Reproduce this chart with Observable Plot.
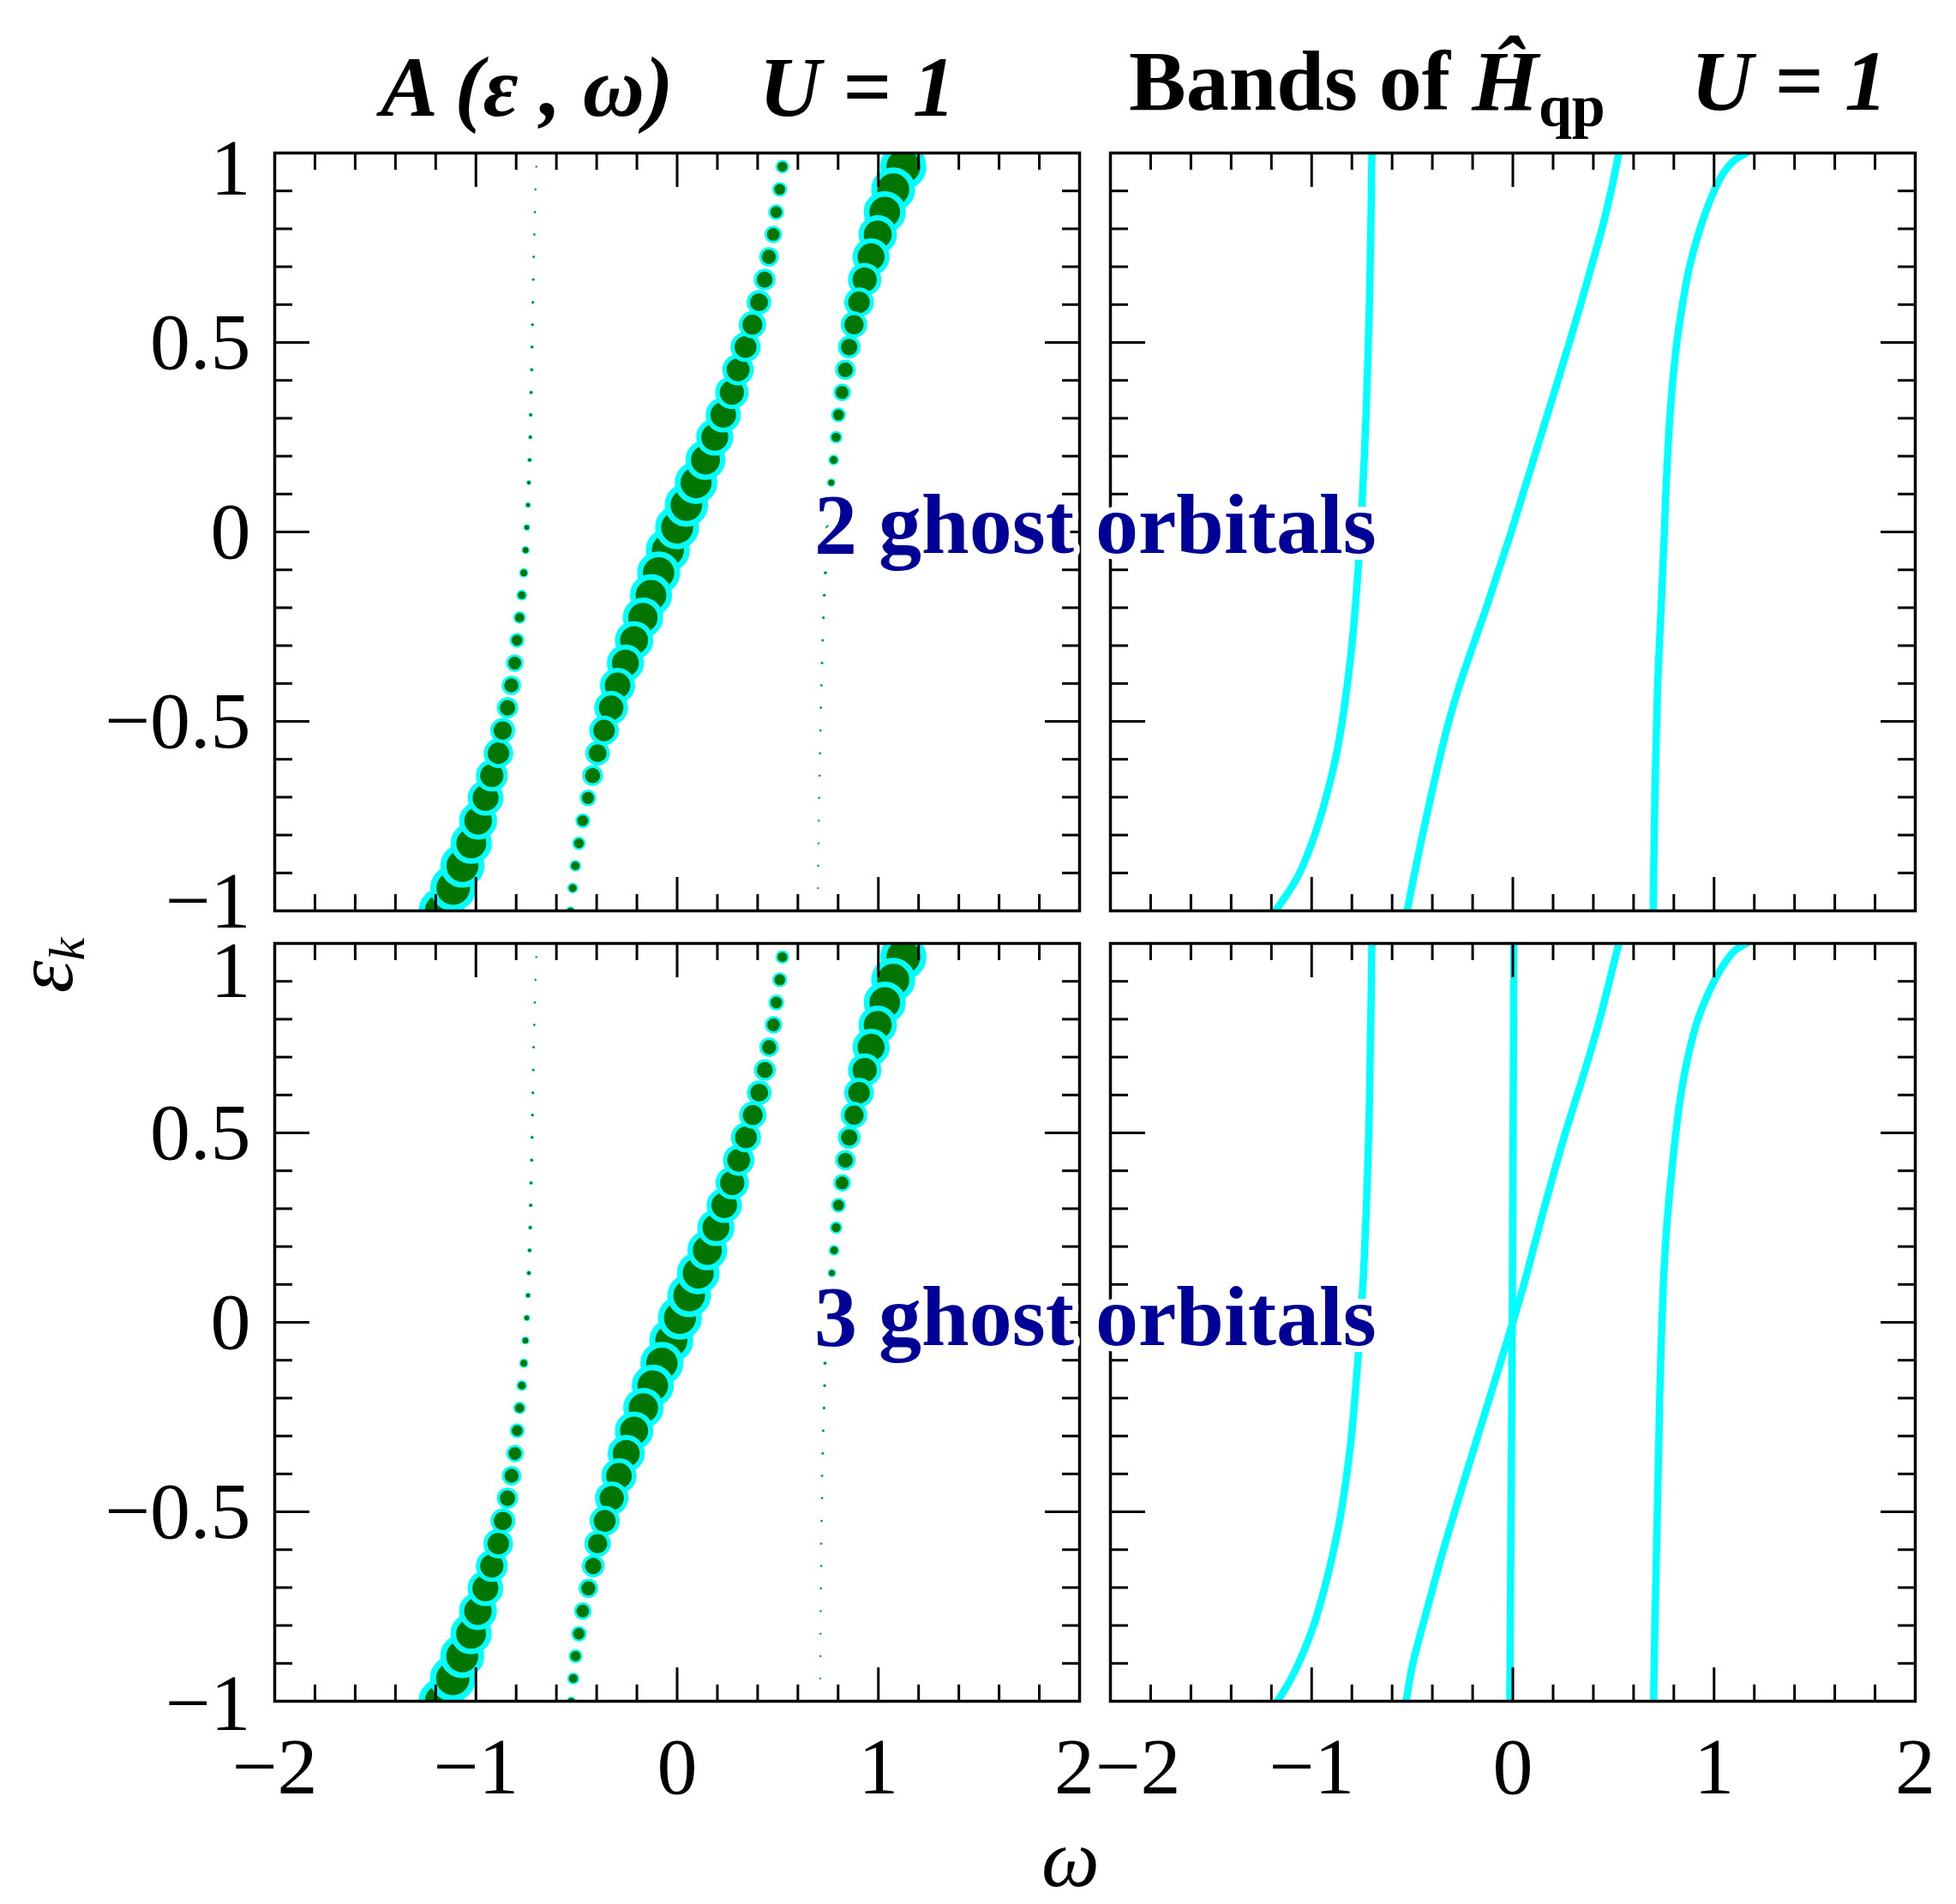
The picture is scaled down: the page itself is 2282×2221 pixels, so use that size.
<!DOCTYPE html>
<html>
<head>
<meta charset="utf-8">
<script src="https://cdn.jsdelivr.net/npm/d3@7"></script>
<script src="https://cdn.jsdelivr.net/npm/@observablehq/plot@0.6"></script>
<style>
  html, body { margin: 0; padding: 0; background: white; }
</style>
</head>
<body>
<div id="chart"></div>
<script>
// ---------------- DATA ----------------
// momentum grid (ε_k) of the spectral-function samples, left panels
const epsGrid = [-1, -0.94, -0.881, -0.822, -0.762, -0.702, -0.643, -0.584, -0.524, -0.464,
  -0.405, -0.346, -0.286, -0.226, -0.167, -0.108, -0.048, 0.012, 0.071, 0.13,
  0.19, 0.25, 0.309, 0.368, 0.428, 0.488, 0.547, 0.606, 0.666, 0.726,
  0.785, 0.844, 0.904, 0.964];

// A(ε,ω) — 2 ghost orbitals: pole positions ω and relative weights
const ghost2_band1_omega = [-1.17, -1.113, -1.067, -1.023, -0.989, -0.952, -0.921, -0.888, -0.867, -0.843,
  -0.824, -0.807, -0.796, -0.783, -0.772, -0.762, -0.753, -0.747, -0.741, -0.737,
  -0.733, -0.730, -0.728, -0.726, -0.723, -0.721, -0.719, -0.717, -0.715, -0.713,
  -0.710, -0.707, -0.704, -0.700];
const ghost2_band1_weight = [1.0, 0.99, 0.95, 0.89, 0.82, 0.77, 0.69, 0.64, 0.54, 0.46,
  0.42, 0.38, 0.32, 0.27, 0.23, 0.2, 0.17, 0.14, 0.12, 0.105,
  0.098, 0.092, 0.087, 0.082, 0.078, 0.074, 0.07, 0.066, 0.063, 0.06,
  0.057, 0.054, 0.051, 0.048];
const ghost2_band2_omega = [-0.530, -0.519, -0.506, -0.488, -0.469, -0.443, -0.420, -0.395, -0.363, -0.328,
  -0.296, -0.257, -0.214, -0.170, -0.130, -0.092, -0.046, 0.0, 0.046, 0.094,
  0.141, 0.187, 0.229, 0.272, 0.303, 0.340, 0.374, 0.407, 0.435, 0.456,
  0.478, 0.492, 0.510, 0.523];
const ghost2_band2_weight = [0.19, 0.23, 0.25, 0.29, 0.32, 0.36, 0.45, 0.53, 0.64, 0.73,
  0.76, 0.8, 0.83, 0.87, 0.91, 0.93, 0.95, 0.95, 0.94, 0.92,
  0.86, 0.8, 0.76, 0.72, 0.68, 0.65, 0.59, 0.53, 0.47, 0.42,
  0.38, 0.34, 0.32, 0.29];
const ghost2_band3_omega = [0.698, 0.700, 0.701, 0.703, 0.704, 0.706, 0.708, 0.710, 0.712, 0.714,
  0.717, 0.720, 0.723, 0.727, 0.731, 0.737, 0.743, 0.750, 0.757, 0.766,
  0.778, 0.790, 0.802, 0.820, 0.836, 0.855, 0.879, 0.904, 0.932, 0.964,
  0.997, 1.032, 1.074, 1.124];
const ghost2_band3_weight = [0.045, 0.046, 0.047, 0.048, 0.049, 0.05, 0.051, 0.052, 0.053, 0.055,
  0.057, 0.059, 0.062, 0.065, 0.07, 0.077, 0.09, 0.11, 0.14, 0.18,
  0.23, 0.27, 0.32, 0.38, 0.44, 0.49, 0.57, 0.64, 0.72, 0.8,
  0.83, 0.91, 0.95, 1.0];

// A(ε,ω) — 3 ghost orbitals
const ghost3_band1_omega = [-1.17, -1.115, -1.068, -1.024, -0.99, -0.953, -0.921, -0.889, -0.866, -0.843,
  -0.823, -0.806, -0.795, -0.783, -0.772, -0.762, -0.754, -0.747, -0.741, -0.737,
  -0.733, -0.730, -0.728, -0.726, -0.723, -0.721, -0.719, -0.717, -0.715, -0.713,
  -0.710, -0.707, -0.704, -0.700];
const ghost3_band1_weight = [1.0, 0.99, 0.95, 0.89, 0.82, 0.77, 0.69, 0.64, 0.54, 0.46,
  0.42, 0.38, 0.32, 0.27, 0.23, 0.2, 0.17, 0.14, 0.12, 0.105,
  0.098, 0.092, 0.087, 0.082, 0.078, 0.074, 0.07, 0.066, 0.063, 0.06,
  0.057, 0.054, 0.051, 0.048];
const ghost3_band2_omega = [-0.526, -0.516, -0.505, -0.488, -0.469, -0.441, -0.417, -0.395, -0.360, -0.325,
  -0.289, -0.253, -0.214, -0.168, -0.121, -0.076, -0.029, 0.014, 0.060, 0.105,
  0.150, 0.193, 0.234, 0.274, 0.306, 0.342, 0.376, 0.408, 0.436, 0.457,
  0.479, 0.493, 0.510, 0.523];
const ghost3_band2_weight = [0.2, 0.26, 0.3, 0.34, 0.38, 0.42, 0.49, 0.57, 0.65, 0.72,
  0.76, 0.8, 0.83, 0.87, 0.91, 0.93, 0.95, 0.95, 0.94, 0.92,
  0.86, 0.8, 0.76, 0.72, 0.68, 0.65, 0.59, 0.53, 0.47, 0.42,
  0.38, 0.34, 0.32, 0.29];
const ghost3_band3_omega = [0.711, 0.711, 0.712, 0.712, 0.713, 0.714, 0.716, 0.716, 0.718, 0.720,
  0.720, 0.724, 0.726, 0.730, 0.733, 0.735, 0.742, 0.750, 0.758, 0.769,
  0.780, 0.790, 0.802, 0.820, 0.836, 0.855, 0.879, 0.904, 0.932, 0.964,
  0.997, 1.032, 1.074, 1.124];
const ghost3_band3_weight = [0.045, 0.046, 0.047, 0.048, 0.049, 0.05, 0.051, 0.052, 0.053, 0.055,
  0.057, 0.059, 0.062, 0.065, 0.07, 0.077, 0.09, 0.11, 0.14, 0.18,
  0.23, 0.27, 0.32, 0.38, 0.44, 0.49, 0.57, 0.64, 0.72, 0.8,
  0.83, 0.91, 0.95, 1.0];

// Bands of H_qp (right panels): ε samples and band energies ω
const bandEps = [-1, -0.95, -0.9, -0.8, -0.7, -0.6, -0.5, -0.4, -0.3, -0.2, -0.1, 0,
  0.1, 0.2, 0.3, 0.4, 0.5, 0.6, 0.7, 0.8, 0.9, 0.95, 0.98, 1];
const qp2_band1 = [-1.18, -1.115, -1.06, -0.985, -0.928, -0.882, -0.848, -0.822, -0.8, -0.783, -0.769, -0.757,
  -0.747, -0.738, -0.73, -0.724, -0.718, -0.713, -0.709, -0.706, -0.703, -0.702, -0.701, -0.700];
const qp2_band2 = [-0.525, -0.507, -0.488, -0.449, -0.408, -0.365, -0.318, -0.262, -0.198, -0.132, -0.07, -0.008,
  0.05, 0.108, 0.166, 0.224, 0.281, 0.337, 0.39, 0.443, 0.488, 0.508, 0.519, 0.527];
const qp2_band3 = [0.698, 0.699, 0.700, 0.703, 0.706, 0.71, 0.715, 0.72, 0.728, 0.737, 0.745, 0.753,
  0.76, 0.769, 0.78, 0.795, 0.815, 0.843, 0.878, 0.93, 1.0, 1.05, 1.1, 1.16];
const qp3_band1 = [-1.17, -1.112, -1.065, -0.99, -0.935, -0.89, -0.853, -0.825, -0.802, -0.785, -0.77, -0.758,
  -0.745, -0.736, -0.728, -0.722, -0.716, -0.712, -0.709, -0.706, -0.703, -0.702, -0.701, -0.700];
const qp3_band2 = [-0.53, -0.515, -0.497, -0.448, -0.397, -0.345, -0.289, -0.232, -0.174, -0.116, -0.058, 0.0,
  0.055, 0.105, 0.155, 0.207, 0.261, 0.32, 0.378, 0.432, 0.48, 0.503, 0.517, 0.528];
const qp3_band3 = [0.70, 0.701, 0.703, 0.706, 0.71, 0.714, 0.718, 0.722, 0.726, 0.73, 0.735, 0.741,
  0.748, 0.758, 0.772, 0.79, 0.81, 0.835, 0.87, 0.92, 1.0, 1.055, 1.1, 1.16];
// flat ghost band near ω = 0 (3 ghost orbitals only)
const qp3_flatEps = [-1, 0, 1];
const qp3_flatOmega = [-0.015, -0.003, 0.005];

// axis ticks and labels
const xTickValues = [-2, -1, 0, 1, 2];
const xTickLabels = ["−2", "−1", "0", "1", "2"];
const xMinorTicks = [-1.8, -1.6, -1.4, -1.2, -0.8, -0.6, -0.4, -0.2, 0.2, 0.4, 0.6, 0.8, 1.2, 1.4, 1.6, 1.8];
const yTickValues = [-1, -0.5, 0, 0.5, 1];
const yTickLabels = ["−1", "−0.5", "0", "0.5", "1"];
const yMinorTicks = [-0.9, -0.8, -0.7, -0.6, -0.4, -0.3, -0.2, -0.1, 0.1, 0.2, 0.3, 0.4, 0.6, 0.7, 0.8, 0.9];

// panels: column "A" = spectral function, "B" = bands; row = number of ghost orbitals
const rows = ["2", "3"];
const cols = ["A", "B"];
const annotations = [
  {row: "2", label: "2 ghost orbitals", omega: 0.682, eps: -0.055},
  {row: "3", label: "3 ghost orbitals", omega: 0.682, eps: -0.06}
];

// ---------------- build tables ----------------
function dotRows(row, bands) {
  const out = [];
  bands.forEach((b, bi) => {
    epsGrid.forEach((e, k) => out.push({row, col: "A", band: bi, eps: e, omega: b.omega[k], w: b.weight[k]}));
  });
  return out;
}
const dotData = [
  ...dotRows("2", [
    {omega: ghost2_band1_omega, weight: ghost2_band1_weight},
    {omega: ghost2_band2_omega, weight: ghost2_band2_weight},
    {omega: ghost2_band3_omega, weight: ghost2_band3_weight}]),
  ...dotRows("3", [
    {omega: ghost3_band1_omega, weight: ghost3_band1_weight},
    {omega: ghost3_band2_omega, weight: ghost3_band2_weight},
    {omega: ghost3_band3_omega, weight: ghost3_band3_weight}])
];

function lineRows(row, name, epsArr, omegaArr) {
  return epsArr.map((e, i) => ({row, col: "B", band: row + name, eps: e, omega: omegaArr[i]}));
}
const lineData = [
  ...lineRows("2", "b1", bandEps, qp2_band1),
  ...lineRows("2", "b2", bandEps, qp2_band2),
  ...lineRows("2", "b3", bandEps, qp2_band3),
  ...lineRows("3", "b1", bandEps, qp3_band1),
  ...lineRows("3", "b2", bandEps, qp3_band2),
  ...lineRows("3", "b3", bandEps, qp3_band3),
  ...lineRows("3", "b0", qp3_flatEps, qp3_flatOmega)
];

const xLabelRows = cols.flatMap(col => xTickValues.map((v, i) => ({row: "3", col, v, label: xTickLabels[i]})));
const yLabelRows = rows.flatMap(row => yTickValues.map((v, i) => ({row, col: "A", v, label: yTickLabels[i]})));
const annotationRows = annotations.map(a => ({...a, col: "A"}));

// ---------------- layout / style ----------------
const W = 2282, H = 2221;
const ML = 320, MR = 48, MT = 178, MB = 237;
const FONT = "'Liberation Serif', 'Times New Roman', Times, serif";
const GREEN = "#007600", CYAN = "#00ffff", NAVY = "#000096";
const DOT_R = 27;          // outer radius (px) of a weight-1 dot
const RING = 0.27;         // cyan ring thickness as a fraction of the outer radius
const TICK_FS = 94;

function sideTicks(values, size) {
  const common = {ticks: values, tickSize: size, fill: "none", label: null, facetAnchor: null,
    stroke: "black", strokeWidth: 3};
  return [
    Plot.axisX({...common, anchor: "top", frameAnchor: "bottom"}),
    Plot.axisX({...common, anchor: "bottom", frameAnchor: "top"})
  ];
}
function sideTicksY(values, size) {
  const common = {ticks: values, tickSize: size, fill: "none", label: null, facetAnchor: null,
    stroke: "black", strokeWidth: 3};
  return [
    Plot.axisY({...common, anchor: "right", frameAnchor: "left"}),
    Plot.axisY({...common, anchor: "left", frameAnchor: "right"})
  ];
}

// per-label nudges of the y tick labels at the panel ends (as in the reference)
const yNudge = {"2": {"1": 18, "-1": -11}, "3": {"1": 32, "-1": 3}};
const yLabelMarks = [];
for (const row of rows) {
  for (const v of yTickValues) {
    const dy = (yNudge[row][String(v)] ?? 0);
    yLabelMarks.push(Plot.text(yLabelRows.filter(d => d.row === row && d.v === v), {
      y: "v", text: "label", fx: "col", fy: "row", frameAnchor: "left", textAnchor: "end",
      dx: -28, dy, fontSize: TICK_FS, fontFamily: FONT, fill: "black"
    }));
  }
}
const xLabelMarks = [
  Plot.text(xLabelRows.filter(d => !((d.col === "B" && d.v === -2) || (d.col === "A" && d.v === 2))), {
    x: "v", text: "label", fx: "col", fy: "row", frameAnchor: "bottom", lineAnchor: "top",
    dy: 41, fontSize: TICK_FS, fontFamily: FONT, fill: "black"}),
  Plot.text(xLabelRows.filter(d => d.col === "A" && d.v === 2), {
    x: "v", text: "label", fx: "col", fy: "row", frameAnchor: "bottom", lineAnchor: "top",
    dy: 41, dx: -6, fontSize: TICK_FS, fontFamily: FONT, fill: "black"}),
  Plot.text(xLabelRows.filter(d => d.col === "B" && d.v === -2), {
    x: "v", text: "label", fx: "col", fy: "row", frameAnchor: "bottom", lineAnchor: "top",
    dy: 41, dx: 32, fontSize: TICK_FS, fontFamily: FONT, fill: "black"})
];

const chart = Plot.plot({
  width: W, height: H,
  marginLeft: ML, marginRight: MR, marginTop: MT, marginBottom: MB,
  style: {background: "white", fontFamily: FONT, maxWidth: "none", overflow: "visible"},
  fx: {domain: cols, axis: null, paddingInner: 0.036923, paddingOuter: 0, round: false},
  fy: {domain: rows, axis: null, paddingInner: 0.04121, paddingOuter: 0, round: false},
  x: {domain: [-2, 2], axis: null},
  y: {domain: [-1, 1], axis: null},
  r: {type: "linear", domain: [0, 1], range: [0, DOT_R]},
  marks: [
    Plot.dot(dotData, {
      x: "omega", y: "eps", fx: "col", fy: "row",
      r: d => d.w * (1 - RING / 2),
      fill: GREEN, stroke: CYAN,
      strokeWidth: d => d.w * DOT_R * RING,
      clip: true, ariaLabel: "spectral"
    }),
    Plot.line(lineData, {
      x: "omega", y: "eps", z: "band", fx: "col", fy: "row",
      stroke: CYAN, strokeWidth: 8.5, curve: "catmull-rom", clip: true
    }),
    ...sideTicks(xTickValues, 40),
    ...sideTicks(xMinorTicks, 20),
    ...sideTicksY(yTickValues, 40),
    ...sideTicksY(yMinorTicks, 20),
    Plot.frame({stroke: "black", strokeWidth: 3.5}),
    ...yLabelMarks,
    ...xLabelMarks,
    Plot.text(annotationRows, {
      x: "omega", y: "eps", text: "label", fx: "col", fy: "row",
      textAnchor: "start", lineAnchor: "bottom",
      fontSize: 100, fontWeight: "bold", fontFamily: FONT,
      fill: NAVY, stroke: "white", strokeWidth: 14,
      ariaLabel: "annotation"
    })
  ]
});

document.getElementById("chart").appendChild(chart);

// ---------------- post styling ----------------
const svg = d3.select(chart);
// cyan ring thickness follows each dot's size
svg.selectAll("g[aria-label=spectral] circle").each(function(i) {
  const d = dotData[i];
  if (d) d3.select(this).attr("stroke-width", d.w * DOT_R * RING);
});
// white halo behind the panel annotations
svg.selectAll("g[aria-label=annotation] text")
  .attr("paint-order", "stroke").attr("stroke-linejoin", "round");

const bandStep = (W - ML - MR) / (2 - 0.036923);
const bandW = bandStep * (1 - 0.036923);
const colCenterA = ML + bandW / 2;
const colCenterB = ML + bandStep + bandW / 2;

const t1 = svg.append("text")
  .attr("x", colCenterA - 10).attr("y", 135)
  .attr("text-anchor", "middle")
  .attr("font-family", FONT).attr("font-size", 100)
  .attr("font-weight", "bold").attr("font-style", "italic")
  .style("white-space", "pre");
t1.append("tspan").text("A (ε , ω)");
t1.append("tspan").text("    U = 1");

const t2 = svg.append("text")
  .attr("x", colCenterB - 5).attr("y", 128)
  .attr("text-anchor", "middle")
  .attr("font-family", FONT).attr("font-size", 100)
  .attr("font-weight", "bold")
  .style("white-space", "pre");
t2.append("tspan").text("Bands of ");
t2.append("tspan").attr("font-style", "italic").text("Ĥ");
t2.append("tspan").attr("font-size", 70).attr("dy", 19).text("qp");
t2.append("tspan").attr("dy", -19).attr("font-style", "italic").text("    U = 1");

// y label ε_k (rotated)
const yl = svg.append("text")
  .attr("transform", "translate(84,1126) rotate(-90)")
  .attr("text-anchor", "middle")
  .attr("font-family", FONT).attr("font-style", "italic");
yl.append("tspan").attr("font-size", 96).text("ε");
yl.append("tspan").attr("font-size", 60).attr("dy", 14).text("k");

// x label ω
svg.append("text")
  .attr("x", 1249).attr("y", 2200)
  .attr("text-anchor", "middle")
  .attr("font-family", FONT).attr("font-style", "italic").attr("font-size", 96)
  .text("ω");
</script>
</body>
</html>
